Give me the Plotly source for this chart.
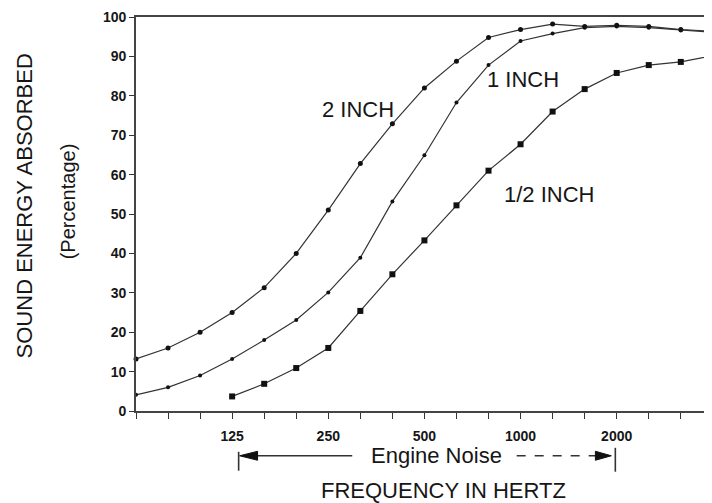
import plotly.graph_objects as go

# ---- data ----
freq_bands = ["63", "80", "100", "125", "160", "200", "250", "315", "400", "500",
              "630", "800", "1000", "1250", "1600", "2000", "2500", "3150", "4000"]
tick_labels = ["", "", "", "125", "", "", "250", "", "", "500",
               "", "", "1000", "", "", "2000", "", "", ""]
two_inch = [13.2, 16.0, 20.0, 25.0, 31.3, 40.0, 51.0, 62.8, 72.9, 82.0,
            88.8, 94.8, 96.8, 98.2, 97.6, 97.9, 97.6, 96.8, 96.4]
one_inch = [4.1, 6.0, 9.0, 13.2, 18.0, 23.1, 30.1, 38.9, 53.2, 64.9,
            78.3, 87.8, 93.9, 95.8, 97.3, 97.6, 97.3, 96.6, 96.1]
half_inch = [None, None, None, 3.7, 6.9, 10.9, 16.0, 25.4, 34.7, 43.3,
             52.2, 61.0, 67.7, 76.0, 81.7, 85.8, 87.8, 88.6, 90.2]
y_ticks = [0, 10, 20, 30, 40, 50, 60, 70, 80, 90, 100]

# page body has an 8px margin; figure is sized to fill the rest of the window
OFF = 8
W, H = 704, 495
ML, MR, MT, MB = 128, 1, 7, 92
PW, PH = W - ML - MR, H - MT - MB
FONT = "Liberation Sans, Arial, Helvetica, sans-serif"
INK = "#161616"
LINE = "#333333"


def px(x):
    return (x - OFF - ML) / PW


def py(y):
    return (H - MB - (y - OFF)) / PH


fig = go.Figure()
fig.add_trace(go.Scatter(x=freq_bands, y=two_inch, mode="lines+markers",
                         line=dict(color=LINE, width=1.2),
                         marker=dict(symbol="circle", size=5, color="#111"),
                         cliponaxis=False, name="2 INCH"))
fig.add_trace(go.Scatter(x=freq_bands, y=one_inch, mode="lines+markers",
                         line=dict(color=LINE, width=1.2),
                         marker=dict(symbol="circle", size=4, color="#111"),
                         cliponaxis=False, name="1 INCH"))
fig.add_trace(go.Scatter(x=freq_bands, y=half_inch, mode="lines+markers",
                         line=dict(color=LINE, width=1.2),
                         marker=dict(symbol="square", size=6, color="#111"),
                         cliponaxis=False, name="1/2 INCH"))

fig.update_layout(
    width=W, height=H,
    margin=dict(l=ML, r=MR, t=MT, b=MB),
    paper_bgcolor="white", plot_bgcolor="white",
    showlegend=False,
    font=dict(family=FONT, color=INK),
    xaxis=dict(type="category", categoryorder="array", categoryarray=freq_bands,
               range=[0, 17.88], tickmode="array", tickvals=freq_bands,
               ticktext=tick_labels, ticks="outside", ticklen=6, tickwidth=1.3,
               tickcolor="#333", showline=True, linecolor="#444", linewidth=1.6,
               mirror=True, showgrid=False, zeroline=False,
               ticklabelstandoff=5, ticklabeloverflow="allow",
               tickfont=dict(size=14, family=FONT, color=INK, weight="bold")),
    yaxis=dict(range=[0, 100], tickmode="array", tickvals=y_ticks,
               ticks="outside", ticklen=5, tickwidth=1.3, tickcolor="#333",
               showline=True, linecolor="#444", linewidth=1.6, mirror=True,
               showgrid=False, zeroline=False, ticklabeloverflow="allow",
               tickfont=dict(size=14, family=FONT, color=INK, weight="bold")),
)

ann = [
    dict(text="2 INCH", x=6.92, y=76.5, xref="x", yref="y", size=22),
    dict(text="1 INCH", x=12.08, y=84.1, xref="x", yref="y", size=22),
    dict(text="1/2 INCH", x=12.89, y=55.0, xref="x", yref="y", size=22),
    dict(text="Engine Noise", x=px(438), y=py(456), xref="paper", yref="paper", size=22),
    dict(text="FREQUENCY IN HERTZ", x=px(445), y=py(491), xref="paper", yref="paper", size=22),
    dict(text="SOUND ENERGY ABSORBED", x=px(24), y=py(205), xref="paper", yref="paper",
         size=22, angle=-90),
    dict(text="(Percentage)", x=px(68), y=py(200), xref="paper", yref="paper",
         size=20, angle=-90),
]
for a in ann:
    fig.add_annotation(text=a["text"], x=a["x"], y=a["y"], xref=a["xref"], yref=a["yref"],
                       showarrow=False, xanchor="center", yanchor="middle",
                       textangle=a.get("angle", 0),
                       font=dict(size=a["size"], family=FONT, color=INK))

# Engine Noise range marker (bars, arrows, lines)
sh = dict(xref="paper", yref="paper", layer="above")
fig.add_shape(type="line", x0=px(239), x1=px(239), y0=py(452), y1=py(471),
              line=dict(color="#333", width=1.6), **sh)
fig.add_shape(type="line", x0=px(242), x1=px(353), y0=py(456), y1=py(456),
              line=dict(color="#333", width=1.5), **sh)
fig.add_shape(type="path",
              path=f"M {px(240)},{py(456)} L {px(258)},{py(451.5)} L {px(258)},{py(460.5)} Z",
              fillcolor="#111", line=dict(color="#111", width=1), **sh)
fig.add_shape(type="line", x0=px(518), x1=px(598), y0=py(456), y1=py(456),
              line=dict(color="#333", width=1.3, dash="dash"), **sh)
fig.add_shape(type="path",
              path=f"M {px(613)},{py(456)} L {px(597)},{py(451.5)} L {px(597)},{py(460.5)} Z",
              fillcolor="#111", line=dict(color="#111", width=1), **sh)
fig.add_shape(type="line", x0=px(617), x1=px(617), y0=py(448), y1=py(472),
              line=dict(color="#333", width=1.6), **sh)

fig.write_html("out.html")
